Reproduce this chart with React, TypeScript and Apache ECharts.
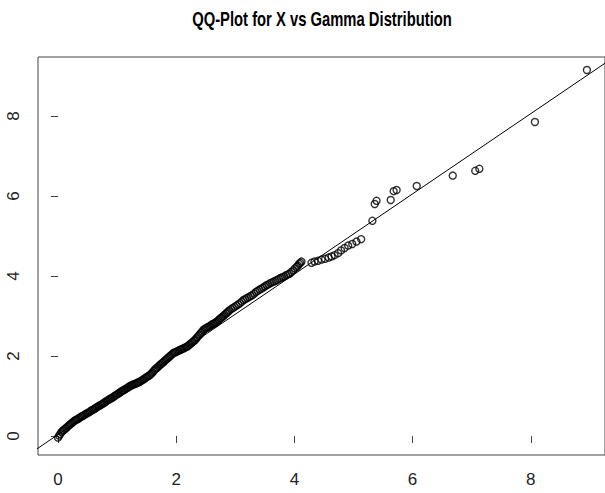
import React, { useEffect, useRef } from "react";
import * as echarts from "echarts";

// Theoretical (gamma) quantiles vs sample quantiles
const bandX = [
  0.00, 0.02, 0.04, 0.06, 0.08, 0.10, 0.12, 0.14, 0.16, 0.18,
  0.20, 0.22, 0.24, 0.26, 0.28, 0.30, 0.32, 0.34, 0.36, 0.38,
  0.40, 0.42, 0.44, 0.46, 0.48, 0.50, 0.52, 0.54, 0.56, 0.58,
  0.60, 0.62, 0.64, 0.66, 0.68, 0.70, 0.72, 0.74, 0.76, 0.78,
  0.80, 0.82, 0.84, 0.86, 0.88, 0.90, 0.92, 0.94, 0.96, 0.98,
  1.00, 1.02, 1.04, 1.06, 1.08, 1.10, 1.12, 1.14, 1.16, 1.18,
  1.20, 1.22, 1.24, 1.26, 1.28, 1.30, 1.32, 1.34, 1.36, 1.38,
  1.40, 1.42, 1.44, 1.46, 1.48, 1.50, 1.52, 1.54, 1.56, 1.58,
  1.60, 1.62, 1.64, 1.66, 1.68, 1.70, 1.72, 1.74, 1.76, 1.78,
  1.80, 1.82, 1.84, 1.86, 1.88, 1.90, 1.92, 1.94, 1.96, 1.98,
  2.00, 2.02, 2.04, 2.06, 2.08, 2.10, 2.12, 2.14, 2.16, 2.18,
  2.20, 2.22, 2.24, 2.26, 2.28, 2.30, 2.32, 2.34, 2.36, 2.38,
  2.40, 2.42, 2.44, 2.46, 2.48, 2.50, 2.52, 2.54, 2.56, 2.58,
  2.60, 2.62, 2.64, 2.66, 2.68, 2.70, 2.72, 2.74, 2.76, 2.78,
  2.80, 2.82, 2.84, 2.86, 2.88, 2.90,
];
const bandY = [
  -0.04, 0.01, 0.05, 0.10, 0.13, 0.15, 0.18, 0.20, 0.23, 0.26,
  0.28, 0.31, 0.33, 0.36, 0.38, 0.40, 0.41, 0.43, 0.45, 0.47,
  0.49, 0.50, 0.52, 0.54, 0.56, 0.57, 0.59, 0.61, 0.63, 0.65,
  0.66, 0.68, 0.70, 0.72, 0.74, 0.76, 0.77, 0.79, 0.81, 0.83,
  0.85, 0.87, 0.89, 0.91, 0.93, 0.94, 0.96, 0.98, 1.00, 1.02,
  1.04, 1.06, 1.08, 1.10, 1.12, 1.14, 1.15, 1.17, 1.19, 1.21,
  1.23, 1.25, 1.26, 1.28, 1.29, 1.30, 1.31, 1.33, 1.34, 1.35,
  1.37, 1.39, 1.41, 1.43, 1.45, 1.47, 1.49, 1.51, 1.53, 1.56,
  1.59, 1.63, 1.66, 1.69, 1.71, 1.74, 1.77, 1.79, 1.82, 1.84,
  1.87, 1.90, 1.92, 1.95, 1.98, 2.00, 2.03, 2.06, 2.08, 2.09,
  2.10, 2.12, 2.13, 2.15, 2.16, 2.17, 2.19, 2.20, 2.22, 2.23,
  2.25, 2.28, 2.30, 2.33, 2.35, 2.38, 2.40, 2.44, 2.47, 2.51,
  2.54, 2.58, 2.61, 2.65, 2.67, 2.69, 2.71, 2.72, 2.74, 2.76,
  2.78, 2.80, 2.81, 2.83, 2.85, 2.87, 2.90, 2.93, 2.95, 2.98,
  3.00, 3.03, 3.06, 3.08, 3.11, 3.14,
];
const upperX = [
  2.93, 2.96, 2.99, 3.02, 3.05, 3.08, 3.11, 3.14, 3.17, 3.20,
  3.23, 3.26, 3.29, 3.32, 3.35, 3.38, 3.41, 3.44, 3.47, 3.50,
  3.53, 3.56, 3.59, 3.62, 3.65, 3.68, 3.71, 3.74, 3.77, 3.80,
  3.83, 3.86, 3.89, 3.92, 3.95, 3.98, 4.01, 4.04, 4.06, 4.08,
  4.10, 4.12,
];
const upperY = [
  3.17, 3.20, 3.23, 3.26, 3.29, 3.32, 3.36, 3.40, 3.42, 3.45,
  3.47, 3.50, 3.52, 3.56, 3.60, 3.63, 3.66, 3.68, 3.71, 3.74,
  3.77, 3.79, 3.82, 3.84, 3.86, 3.88, 3.90, 3.93, 3.95, 3.97,
  3.99, 4.02, 4.04, 4.06, 4.10, 4.14, 4.19, 4.23, 4.26, 4.30,
  4.33, 4.36,
];
const clusterX = [4.29, 4.34, 4.40, 4.46, 4.52, 4.58, 4.63, 4.68, 4.74, 4.79, 4.85, 4.91, 4.98, 5.05, 5.13];
const clusterY = [4.33, 4.36, 4.38, 4.41, 4.43, 4.46, 4.49, 4.52, 4.57, 4.64, 4.70, 4.76, 4.80, 4.86, 4.92];
const tailX = [5.32, 5.36, 5.39, 5.63, 5.68, 5.73, 6.07, 6.68, 7.06, 7.13, 8.07, 8.95];
const tailY = [5.38, 5.80, 5.88, 5.90, 6.12, 6.15, 6.25, 6.51, 6.63, 6.68, 7.85, 9.15];

// Reference line (qqline)
const lineIntercept = 0.035;
const lineSlope = 1.003;

const xTicks = [0, 2, 4, 6, 8];
const yTicks = [0, 2, 4, 6, 8];
const X_MIN = -0.338;
const X_MAX = 9.256;
const Y_MIN = -0.475;
const Y_MAX = 9.475;

const TITLE = "QQ-Plot for X vs Gamma Distribution";
const FONT = "'Liberation Sans', Arial, sans-serif";

export default function App() {
  const ref = useRef<HTMLDivElement>(null);
  useEffect(() => {
    document.body.style.margin = "0";
    const chart = echarts.init(ref.current!, null, { renderer: "svg" });
    const xs = [...bandX, ...upperX, ...clusterX, ...tailX];
    const ys = [...bandY, ...upperY, ...clusterY, ...tailY];
    const pts = xs.map((x, i) => [x, ys[i]]);
    const lx0 = X_MIN - 1;
    const lx1 = X_MAX + 1;
    chart.setOption({
      animation: false,
      backgroundColor: "#fff",
      graphic: [
        {
          type: "text",
          x: 322,
          y: 19,
          scaleX: 0.74,
          style: {
            text: TITLE,
            font: "bold 20px 'Liberation Sans', Arial, sans-serif",
            fill: "#000",
            textAlign: "center",
            textVerticalAlign: "middle",
          },
        },
      ],
      grid: {
        left: 38,
        top: 57,
        right: 0,
        bottom: 38,
        show: true,
        borderColor: "#444",
        borderWidth: 1,
        backgroundColor: "transparent",
      },
      xAxis: {
        type: "value",
        min: X_MIN,
        max: X_MAX,
        splitLine: { show: false },
        axisLine: { show: false },
        axisTick: { show: true, length: 7, lineStyle: { color: "#444", width: 1 }, customValues: xTicks },
        axisLabel: { customValues: xTicks, margin: 16, fontSize: 17, fontFamily: FONT, color: "#222" },
      },
      yAxis: {
        type: "value",
        min: Y_MIN,
        max: Y_MAX,
        splitLine: { show: false },
        axisLine: { show: false },
        axisTick: { show: true, length: 7, lineStyle: { color: "#444", width: 1 }, customValues: yTicks },
        axisLabel: { customValues: yTicks, margin: 16, rotate: 90, fontSize: 17, fontFamily: FONT, color: "#222" },
      },
      series: [
        {
          type: "scatter",
          data: pts,
          symbol: "circle",
          symbolSize: 7,
          itemStyle: { color: "rgba(0,0,0,0)", borderColor: "#000", borderWidth: 1.4 },
        },
        {
          type: "line",
          data: [
            [lx0, lineIntercept + lineSlope * lx0],
            [lx1, lineIntercept + lineSlope * lx1],
          ],
          showSymbol: false,
          clip: true,
          lineStyle: { color: "#000", width: 1 },
        },
      ],
    });
    return () => chart.dispose();
  }, []);
  return (
    <div
      ref={ref}
      style={{ width: 605, height: 493, position: "absolute", left: 0, top: 0, background: "#fff" }}
    />
  );
}
